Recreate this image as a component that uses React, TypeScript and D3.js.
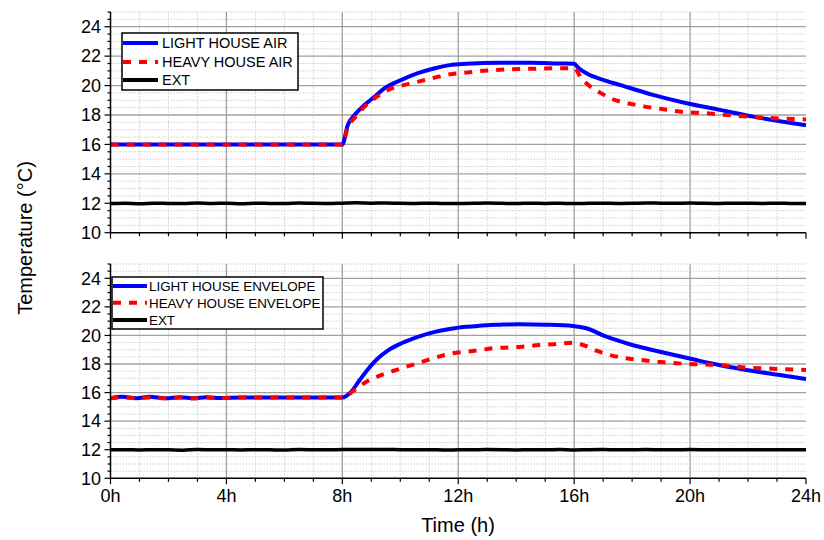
import React from "react";
import * as d3 from "d3";

// ---------- DATA ----------
const xTickHours = [0, 4, 8, 12, 16, 20, 24];
const xTickLabels = ["0h", "4h", "8h", "12h", "16h", "20h", "24h"];
const yTickValues = [10, 12, 14, 16, 18, 20, 22, 24];

const airLightT = [0, 8, 8.19, 8.42, 8.77, 9.12, 9.46, 10.04, 10.61, 11.19, 11.7, 12.3, 13.4, 14.5, 15.5, 16, 16.15, 16.42, 17, 17.57, 18.72, 19.88, 21.03, 22.18, 24];
const airLightV = [16, 16, 17.33, 18.0, 18.69, 19.25, 19.82, 20.39, 20.84, 21.18, 21.39, 21.48, 21.55, 21.55, 21.5, 21.48, 21.2, 20.84, 20.39, 20.05, 19.37, 18.8, 18.35, 17.89, 17.3];

const airHeavyT = [0, 8, 8.19, 8.42, 8.77, 9.12, 9.58, 10.15, 10.73, 11.19, 11.59, 12.28, 12.97, 13.43, 14.5, 16, 16.25, 16.42, 16.89, 17.33, 17.85, 18.44, 19.02, 19.65, 20.57, 21.26, 22.3, 23.33, 24];
const airHeavyV = [16, 16, 17.2, 17.8, 18.57, 19.14, 19.71, 20.05, 20.32, 20.54, 20.73, 20.88, 21.02, 21.07, 21.14, 21.18, 20.5, 20.16, 19.52, 19.07, 18.8, 18.57, 18.41, 18.23, 18.12, 18.0, 17.85, 17.74, 17.7];

const envLightT = [0, 0.4, 0.9, 1.35, 1.9, 2.4, 2.9, 3.3, 3.8, 4.5, 5.5, 6.5, 7.5, 8, 8.3, 8.6, 8.88, 9.23, 9.58, 10.04, 10.61, 11.19, 11.7, 12.28, 12.97, 13.43, 14.12, 15, 15.96, 16.42, 17.11, 17.92, 18.96, 20.1, 21.0, 22.17, 23.1, 24];
const envLightV = [15.6, 15.7, 15.6, 15.7, 15.6, 15.68, 15.6, 15.67, 15.62, 15.65, 15.65, 15.66, 15.65, 15.65, 16.05, 16.88, 17.62, 18.4, 18.95, 19.45, 19.9, 20.25, 20.45, 20.6, 20.72, 20.75, 20.78, 20.75, 20.66, 20.5, 19.91, 19.38, 18.86, 18.33, 17.93, 17.51, 17.23, 16.95];

const envHeavyT = [0, 0.4, 0.9, 1.35, 1.9, 2.4, 2.9, 3.3, 3.8, 4.5, 5.5, 6.5, 7.5, 8, 8.42, 8.83, 9.29, 9.75, 10.21, 10.67, 11.13, 11.81, 12.5, 13.2, 14.2, 14.8, 15.4, 15.96, 16.4, 16.77, 17.23, 17.8, 18.3, 18.89, 19.92, 20.96, 22.06, 23.1, 24];
const envHeavyV = [15.6, 15.66, 15.6, 15.66, 15.6, 15.65, 15.6, 15.65, 15.62, 15.65, 15.65, 15.66, 15.65, 15.65, 16.18, 16.76, 17.18, 17.51, 17.81, 18.09, 18.4, 18.75, 18.91, 19.1, 19.21, 19.33, 19.4, 19.49, 19.26, 18.93, 18.63, 18.4, 18.28, 18.16, 18.0, 17.93, 17.74, 17.65, 17.58];

const extT = [0, 0.5, 1, 1.5, 2, 2.5, 3, 3.5, 4, 4.5, 5, 5.5, 6, 6.5, 7, 7.5, 8, 8.5, 9, 9.5, 10, 10.5, 11, 11.5, 12, 12.5, 13, 13.5, 14, 14.5, 15, 15.5, 16, 16.5, 17, 17.5, 18, 18.5, 19, 19.5, 20, 20.5, 21, 21.5, 22, 22.5, 23, 23.5, 24];
const extTopV = [11.98, 12.0, 11.97, 12.01, 11.99, 11.98, 12.02, 11.99, 12.0, 11.97, 12.01, 11.99, 11.98, 12.02, 12.0, 11.99, 12.01, 12.03, 12.01, 12.02, 12.0, 11.99, 12.01, 11.98, 11.99, 12.0, 12.02, 12.0, 11.98, 12.01, 11.99, 12.0, 11.98, 12.0, 12.01, 11.99, 12.0, 12.02, 12.01, 12.0, 12.02, 12.0, 11.99, 12.01, 12.0, 11.99, 12.0, 11.99, 11.99];
const extBotV = [11.99, 12.0, 11.98, 12.0, 11.99, 11.97, 12.01, 11.99, 12.0, 11.98, 12.0, 11.99, 11.98, 12.01, 12.0, 11.99, 12.01, 12.02, 12.01, 12.02, 12.0, 11.99, 12.0, 11.98, 11.99, 12.0, 12.01, 12.0, 11.98, 12.0, 11.99, 12.02, 11.98, 12.0, 12.01, 11.99, 12.0, 12.01, 12.0, 12.0, 12.01, 12.0, 11.99, 12.0, 12.0, 11.99, 12.0, 11.99, 11.99];

const topLegend = ["LIGHT HOUSE AIR", "HEAVY HOUSE AIR", "EXT"];
const botLegend = ["LIGHT HOUSE ENVELOPE", "HEAVY HOUSE ENVELOPE", "EXT"];

// ---------- STYLE ----------
const FONT = "'Liberation Sans', Arial, Helvetica, sans-serif";
const BLUE = "#0000ff";
const RED = "#ff0000";
const BLACK = "#000000";
const DASH = "8,8";

const X0 = 110.5;
const X1 = 806;
const x = d3.scaleLinear().domain([0, 24]).range([X0, X1]);

type Series = { t: number[]; v: number[]; color: string; dash?: string; width: number };

function zip(t: number[], v: number[]): [number, number][] {
  return t.map((h, i) => [h, v[i]]);
}

function Panel(props: {
  yBottom: number;
  yTop: number;
  series: Series[];
  legend: string[];
  legendBox: { x: number; y: number; w: number; h: number; rows: number[]; sx0: number; sx1: number; tx: number; fs: number };
  showXLabels: boolean;
}) {
  const { yBottom, yTop, series, legend, legendBox, showXLabels } = props;
  const y = d3.scaleLinear().domain([10, 25]).range([yBottom, yTop]);
  const line = d3
    .line<[number, number]>()
    .x((d) => x(d[0]))
    .y((d) => y(d[1]))
    .curve(d3.curveMonotoneX);

  const minorY = d3.range(10.5, 25.01, 0.5).filter((v) => Math.abs(v % 2) > 0.01);
  const majorY = d3.range(12, 24.01, 2);
  const minorX = d3.range(1, 24, 1).filter((h) => h % 4 !== 0);
  const majorX = [4, 8, 12, 16, 20];
  const yTicksMinor = d3.range(10, 25.01, 0.5);
  const xTicksMinor = d3.range(0, 24.01, 1);

  const legendColors = [
    { c: BLUE, d: undefined as string | undefined },
    { c: RED, d: DASH },
    { c: BLACK, d: undefined },
  ];

  return (
    <g>
      {minorY.map((v) => (
        <line key={"my" + v} x1={X0} x2={X1} y1={y(v)} y2={y(v)} stroke="#cfcfcf" strokeWidth={1} strokeDasharray="1.5,1.5" />
      ))}
      {minorX.map((h) => (
        <line key={"mx" + h} x1={x(h)} x2={x(h)} y1={y(10)} y2={y(25)} stroke="#cfcfcf" strokeWidth={1} strokeDasharray="1.5,1.5" />
      ))}
      {majorY.map((v) => (
        <line key={"My" + v} x1={X0} x2={X1} y1={y(v)} y2={y(v)} stroke="#a0a0a0" strokeWidth={1.3} />
      ))}
      {majorX.map((h) => (
        <line key={"Mx" + h} x1={x(h)} x2={x(h)} y1={y(10)} y2={y(25)} stroke="#a0a0a0" strokeWidth={1.3} />
      ))}

      {series.map((s, i) => (
        <path
          key={"s" + i}
          d={line(zip(s.t, s.v)) || ""}
          fill="none"
          stroke={s.color}
          strokeWidth={s.width}
          strokeDasharray={s.dash}
          strokeLinejoin="round"
        />
      ))}

      <line x1={X0} x2={X0} y1={y(25)} y2={y(10)} stroke="#000" strokeWidth={1.5} />
      <line x1={X0} x2={X1} y1={y(10)} y2={y(10)} stroke="#000" strokeWidth={1.5} />
      {yTicksMinor.map((v) => {
        const major = Math.abs(v % 2) < 0.01;
        return <line key={"yt" + v} x1={X0 - (major ? 6 : 3)} x2={X0} y1={y(v)} y2={y(v)} stroke="#000" strokeWidth={1.2} />;
      })}
      {xTicksMinor.map((h) => {
        const major = h % 4 === 0;
        return <line key={"xt" + h} x1={x(h)} x2={x(h)} y1={y(10)} y2={y(10) + (major ? 6 : 3.5)} stroke="#000" strokeWidth={1.2} />;
      })}
      {yTickValues.map((v) => (
        <text key={"yl" + v} x={101} y={y(v)} dy="0.35em" textAnchor="end" fontFamily={FONT} fontSize={18} fill="#000">
          {v}
        </text>
      ))}
      {showXLabels &&
        xTickHours.map((h, i) => (
          <text key={"xl" + h} x={x(h)} y={y(10) + 24} textAnchor="middle" fontFamily={FONT} fontSize={18} fill="#000">
            {xTickLabels[i]}
          </text>
        ))}

      <rect x={legendBox.x} y={legendBox.y} width={legendBox.w} height={legendBox.h} fill="#fff" stroke="#000" strokeWidth={1.5} />
      {legend.map((label, i) => (
        <g key={"lg" + i}>
          <line
            x1={legendBox.sx0}
            x2={legendBox.sx1}
            y1={legendBox.rows[i]}
            y2={legendBox.rows[i]}
            stroke={legendColors[i].c}
            strokeWidth={4}
            strokeDasharray={legendColors[i].d}
          />
          <text x={legendBox.tx} y={legendBox.rows[i]} dy="0.36em" fontFamily={FONT} fontSize={legendBox.fs} fill="#000">
            {label}
          </text>
        </g>
      ))}
    </g>
  );
}

export default function App() {
  const topSeries: Series[] = [
    { t: extT, v: extTopV, color: BLACK, width: 3.5 },
    { t: airLightT, v: airLightV, color: BLUE, width: 4 },
    { t: airHeavyT, v: airHeavyV, color: RED, dash: DASH, width: 4 },
  ];
  const botSeries: Series[] = [
    { t: extT, v: extBotV, color: BLACK, width: 3.5 },
    { t: envLightT, v: envLightV, color: BLUE, width: 4 },
    { t: envHeavyT, v: envHeavyV, color: RED, dash: DASH, width: 4 },
  ];
  return (
    <svg width={824} height={540} style={{ position: "absolute", left: 0, top: 0, background: "#fff" }}>
      <rect x={0} y={0} width={824} height={540} fill="#fff" />
      <Panel
        yBottom={232.7}
        yTop={12}
        series={topSeries}
        legend={topLegend}
        legendBox={{ x: 122, y: 33, w: 176, h: 57, rows: [43, 62, 80], sx0: 123, sx1: 158, tx: 162, fs: 14.5 }}
        showXLabels={false}
      />
      <Panel
        yBottom={478.3}
        yTop={264}
        series={botSeries}
        legend={botLegend}
        legendBox={{ x: 112, y: 277, w: 211, h: 52, rows: [286, 302.7, 320], sx0: 113, sx1: 147, tx: 149, fs: 13.4 }}
        showXLabels={true}
      />
      <text x={458} y={532} textAnchor="middle" fontFamily={FONT} fontSize={20} fill="#000">
        Time (h)
      </text>
      <text
        transform="translate(32,238) rotate(-90)"
        textAnchor="middle"
        fontFamily={FONT}
        fontSize={20}
        fill="#000"
      >
        Temperature (°C)
      </text>
    </svg>
  );
}
